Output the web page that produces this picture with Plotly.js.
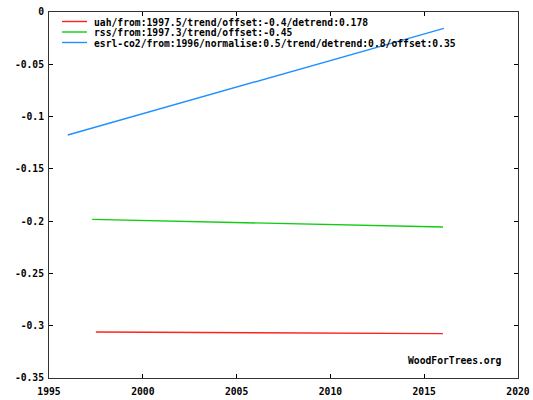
<!DOCTYPE html>
<html>
<head>
<meta charset="utf-8">
<script src="https://cdn.plot.ly/plotly-3.0.1.min.js"></script>
<style>html,body{margin:0;padding:0;background:#fff;}#chart{width:533px;height:400px;}</style>
</head>
<body>
<div id="chart"></div>
<script>
// Series names
const seriesNames = [
  "uah/from:1997.5/trend/offset:-0.4/detrend:0.178",
  "rss/from:1997.3/trend/offset:-0.45",
  "esrl-co2/from:1996/normalise:0.5/trend/detrend:0.8/offset:0.35"
];
const seriesColors = ["#ff2020", "#10cc10", "#2090ff"];

// Trend line endpoints (year, value)
const uahX = [1997.5, 2016.0];
const uahY = [-0.306, -0.3076];
const rssX = [1997.3, 2016.0];
const rssY = [-0.1983, -0.2056];
const co2X = [1996.0, 2016.05];
const co2Y = [-0.1176, -0.0156];

// Tick labels
const xTickVals = [1995, 2000, 2005, 2010, 2015, 2020];
const xTickText = ["1995", "2000", "2005", "2010", "2015", "2020"];
const yTickVals = [0, -0.05, -0.1, -0.15, -0.2, -0.25, -0.3, -0.35];
const yTickText = ["0", "-0.05", "-0.1", "-0.15", "-0.2", "-0.25", "-0.3", "-0.35"];

const FONT = "DejaVu Sans Mono, monospace";

const traces = [
  {x: uahX, y: uahY, mode: "lines", line: {color: seriesColors[0], width: 1.4}, name: seriesNames[0], showlegend: false, hoverinfo: "skip"},
  {x: rssX, y: rssY, mode: "lines", line: {color: seriesColors[1], width: 1.4}, name: seriesNames[1], showlegend: false, hoverinfo: "skip"},
  {x: co2X, y: co2Y, mode: "lines", line: {color: seriesColors[2], width: 1.4}, name: seriesNames[2], showlegend: false, hoverinfo: "skip"}
];

// Manual compact legend (paper coords)
const shapes = [];
const annotations = [];
const W = 533 - 49 - 15, H = 400 - 12 - 22;
seriesNames.forEach((name, i) => {
  const yPix = 9.5 + i * 10.5; // distance from plot top in px
  const yp = 1 - yPix / H;
  shapes.push({type: "line", xref: "paper", yref: "paper",
    x0: 13 / W, x1: 38 / W, y0: yp, y1: yp,
    line: {color: seriesColors[i], width: 1.4}});
  annotations.push({xref: "paper", yref: "paper", x: 43 / W, y: 1 - (yPix + 1) / H,
    xanchor: "left", yanchor: "middle", showarrow: false, text: name,
    font: {family: FONT, size: 9.7, color: "#000", weight: "bold"}});
});
annotations.push({xref: "paper", yref: "paper", x: (503 - 49) / W, y: 1 - (360 - 12) / H,
  xanchor: "right", yanchor: "middle", showarrow: false, text: "WoodForTrees.org",
  font: {family: FONT, size: 9.7, color: "#000", weight: "bold"}});

const layout = {
  width: 533, height: 400,
  margin: {l: 49, r: 15, t: 12, b: 22, pad: 0},
  paper_bgcolor: "#fff", plot_bgcolor: "#fff",
  font: {family: FONT, size: 9.7, color: "#000", weight: "bold"},
  showlegend: false,
  xaxis: {range: [1995, 2020], tickvals: xTickVals, ticktext: xTickText,
    ticks: "inside", ticklen: 4, tickcolor: "#000", showgrid: false, zeroline: false,
    showline: true, linecolor: "#333", linewidth: 1, mirror: "ticks", ticklabelstandoff: 4,
    tickfont: {family: FONT, size: 9.7, color: "#000", weight: "bold"}, fixedrange: true},
  yaxis: {range: [-0.35, 0], tickvals: yTickVals, ticktext: yTickText,
    ticks: "inside", ticklen: 4, tickcolor: "#000", showgrid: false, zeroline: false,
    showline: true, linecolor: "#333", linewidth: 1, mirror: "ticks", ticklabelstandoff: 2,
    tickfont: {family: FONT, size: 9.7, color: "#000", weight: "bold"}, fixedrange: true},
  shapes: shapes,
  annotations: annotations
};

Plotly.newPlot("chart", traces, layout, {staticPlot: true, displayModeBar: false});
</script>
</body>
</html>
